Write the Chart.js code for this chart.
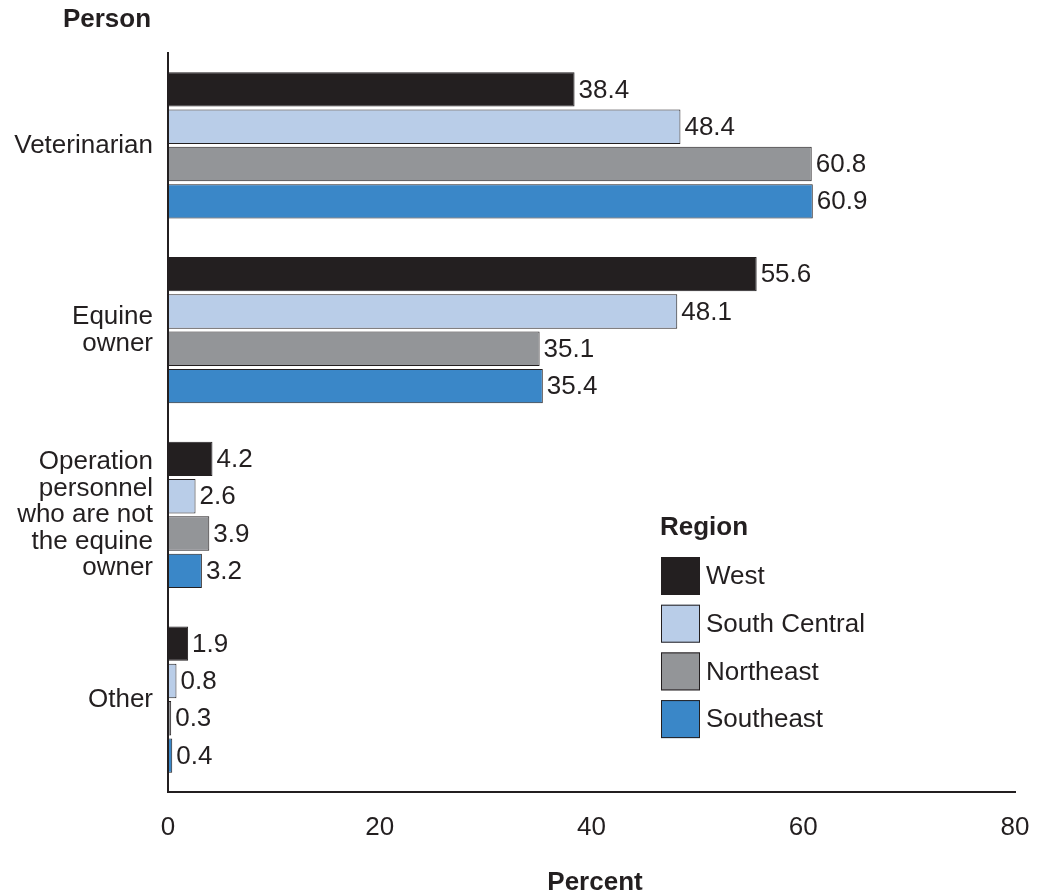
<!DOCTYPE html>
<html>
<head>
<meta charset="utf-8">
<script src="https://cdn.jsdelivr.net/npm/chart.js@4/dist/chart.umd.min.js"></script>
<style>
html,body{margin:0;padding:0;background:#fff;}
#wrap{width:1044px;height:896px;position:relative;}
</style>
</head>
<body>
<div id="wrap"><canvas id="c" width="1044" height="896"></canvas></div>
<script>
const categories = [["Veterinarian"], ["Equine", "owner"], ["Operation", "personnel", "who are not", "the equine", "owner"], ["Other"]];
const seriesNames = ["West", "South Central", "Northeast", "Southeast"];
const west = [38.4, 55.6, 4.2, 1.9];
const southCentral = [48.4, 48.1, 2.6, 0.8];
const northeast = [60.8, 35.1, 3.9, 0.3];
const southeast = [60.9, 35.4, 3.2, 0.4];
const xTicks = [0, 20, 40, 60, 80];
const colors = ["#231f20", "#b9cde8", "#939598", "#3a87c8"];
const ink = "#231f20";
const FONT = "'Liberation Sans', Arial, Helvetica, sans-serif";

const seriesValues = [west, southCentral, northeast, southeast];

const labelPlugin = {
  id: 'valueLabels',
  afterDatasetsDraw(chart) {
    const ctx = chart.ctx;
    ctx.save();
    ctx.font = "26px " + FONT;
    ctx.fillStyle = ink;
    ctx.textBaseline = "middle";
    ctx.textAlign = "left";
    chart.data.datasets.forEach((ds, i) => {
      const meta = chart.getDatasetMeta(i);
      meta.data.forEach((bar, j) => {
        ctx.fillText(ds.data[j].toFixed(1), bar.x + 4, bar.y + 1);
      });
    });
    ctx.restore();
  }
};

const extrasPlugin = {
  id: 'extras',
  afterDraw(chart) {
    const ctx = chart.ctx;
    ctx.save();
    ctx.fillStyle = ink;
    ctx.font = "bold 26px " + FONT;
    ctx.textAlign = "center";
    ctx.textBaseline = "middle";
    ctx.fillText("Person", 107, 20);
    ctx.fillText("Percent", 595, 883);
    // legend
    ctx.textAlign = "left";
    ctx.fillText("Region", 660, 528);
    ctx.font = "26px " + FONT;
    chart.data.datasets.forEach((ds, i) => {
      const y = 557 + i * 47.7;
      ctx.fillStyle = ds.backgroundColor;
      ctx.fillRect(661, y, 39, 38);
      ctx.strokeStyle = ink;
      ctx.lineWidth = 1;
      ctx.strokeRect(661.5, y + 0.5, 38, 37);
      ctx.fillStyle = ink;
      ctx.fillText(ds.label, 706, y + 20);
    });
    ctx.restore();
  }
};

new Chart(document.getElementById('c'), {
  type: 'bar',
  data: {
    labels: categories,
    datasets: seriesNames.map((name, i) => ({
      label: name,
      data: seriesValues[i],
      backgroundColor: colors[i],
      borderColor: ink,
      borderWidth: 1,
      borderSkipped: false,
      categoryPercentage: 0.807,
      barPercentage: 0.92
    }))
  },
  options: {
    indexAxis: 'y',
    responsive: false,
    animation: false,
    devicePixelRatio: 1,
    layout: { padding: { top: 53, right: 29, left: 0, bottom: 0 } },
    plugins: { legend: { display: false }, tooltip: { enabled: false } },
    scales: {
      x: {
        min: 0, max: 80,
        afterBuildTicks(scale) { scale.ticks = xTicks.map(v => ({ value: v })); },
        grid: { display: false, drawTicks: false },
        border: { display: true, color: ink, width: 2 },
        ticks: { color: ink, font: { family: FONT, size: 26 }, padding: 20, maxRotation: 0 },
        afterFit(scale) { scale.height = 104; scale.paddingRight = 0; scale.paddingLeft = 0; }
      },
      y: {
        grid: { display: false, drawTicks: false },
        border: { display: true, color: ink, width: 2 },
        ticks: { color: ink, font: { family: FONT, size: 26, lineHeight: 1.02 }, padding: 15, crossAlign: 'near' },
        afterFit(scale) { scale.width = 168; scale.paddingTop = 0; scale.paddingBottom = 0; }
      }
    }
  },
  plugins: [labelPlugin, extrasPlugin]
});
</script>
</body>
</html>
